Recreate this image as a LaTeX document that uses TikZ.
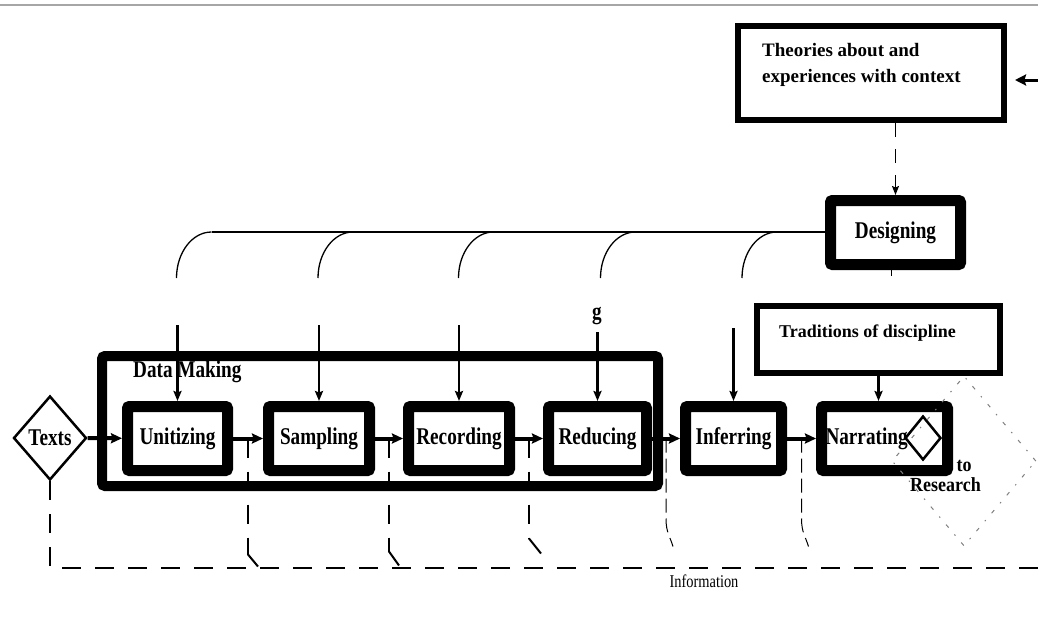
\documentclass[tikz,border=0pt]{standalone}
\usepackage{fontspec}
\setmainfont{Liberation Serif}
\newfontfamily\narrowfont{Liberation Serif}[FakeStretch=0.8]
\newfontfamily\semifont{Liberation Serif}[FakeStretch=0.9]
\usetikzlibrary{arrows.meta,shapes.geometric,calc}

\begin{document}
\begin{tikzpicture}[x=1pt, y=-1pt,
	proc/.style = {draw, line width=11pt, rounded corners=2pt, minimum height=64pt, inner sep=0pt,
		font=\narrowfont\bfseries\fontsize{24}{28}\selectfont},
	frame/.style = {draw, line width=6pt, inner sep=0pt},
	lbl/.style = {inner sep=0pt, font=\narrowfont\bfseries\fontsize{24}{28}\selectfont},
	flow/.style = {line width=4pt, -{Stealth[length=11pt, width=10pt, inset=1.5pt]}},
	feed/.style = {line width=2.5pt, -{Stealth[length=10pt, width=8pt, inset=1.5pt]}},
	fb/.style = {line width=2pt, dash pattern=on 19pt off 14pt},
	fbcurve/.style = {line width=1pt, dash pattern=on 14pt off 6pt}
]
\useasboundingbox (0,0) rectangle (1038,624);
\draw[gray!70, line width=1.5pt] (0,5) -- (1038,5);

\node [frame, minimum width=266pt, minimum height=94pt] (theo) at (871,73) {};
\node [anchor=north west, align=left, inner sep=0pt, font=\bfseries\fontsize{19}{26}\selectfont]
	(theotext) at (762,43) {Theories about and\\experiences with context};
\node [frame, minimum width=243pt, minimum height=67pt] (trad) at (878.5,339.5) {};
\node [anchor=base west, inner sep=0pt, font=\bfseries\fontsize{18}{22}\selectfont]
	(tradtext) at (779,337) {Traditions of discipline};

\node [draw, line width=10pt, rounded corners=3pt, minimum width=556pt, minimum height=130pt] (dm) at (380,421) {};
\node [lbl, anchor=base west] (dmlabel) at (133,377) {Data Making};

\node [proc, minimum width=130pt] (design) at (895.5,232.5) {Designing};
\node [proc, minimum width=100pt] (unit) at (177.5,438.5) {Unitizing};
\node [proc, minimum width=101pt] (samp) at (319,438.5) {Sampling};
\node [proc, minimum width=101pt] (rec) at (459,438.5) {Recording};
\node [proc, minimum width=98pt] (red) at (597.5,438.5) {Reducing};
\node [proc, minimum width=96pt] (inf) at (733.5,438.5) {Inferring};
\node [proc, minimum width=126pt, text width=118pt, align=left] (narr) at (884.5,438.5) {Narrating};

\node [lbl, draw, diamond, line width=2.5pt, minimum width=73pt, minimum height=84pt] (texts) at (50,438) {Texts};
\node [draw, diamond, line width=2.5pt, minimum width=36pt, minimum height=44pt, inner sep=0pt] (exit) at (923,438) {};
\node [draw, diamond, gray, line width=1pt, dash pattern=on 4pt off 9pt on 1.5pt off 9pt,
	minimum width=144pt, minimum height=170pt] (research) at (964,461) {};
\node [anchor=base, inner sep=0pt, font=\semifont\bfseries\fontsize{20}{22}\selectfont] (tolabel) at (964,471) {to};
\node [anchor=base, inner sep=0pt, font=\semifont\bfseries\fontsize{20}{22}\selectfont] (reslabel) at (945.5,491) {Research};
\node [lbl] (glabel) at (597,316) {g};
\node [anchor=base, inner sep=0pt, font=\narrowfont\fontsize{18}{20}\selectfont] (info) at (704,587) {Information};

\draw[flow] (texts) -- (unit);
\draw[flow] (unit) -- (samp);
\draw[flow] (samp) -- (rec);
\draw[flow] (rec) -- (red);
\draw[flow] (red) -- (inf);
\draw[flow] (inf) -- (narr);

\foreach \n/\x/\t in {unit/176.5/325, samp/318/325, rec/458.5/325, red/600.5/332, inf/742/328} {
	\coordinate (\n-in) at (\n.north |- 0,\t);
	\coordinate (\n-arc) at (\x,278);
	\draw[feed] (\n-in) -- (\n.north);
	\draw[line width=1.3pt] (\n-arc) .. controls (\x,252.6) and (\x+15.7,232) .. (\x+35,232);
}
\coordinate (dline) at (211.5,232);
\draw[line width=1.3pt] (dline) -- (design.west |- dline);
\coordinate (dstub) at (891,276);
\draw[line width=1pt] (design.south -| dstub) -- (dstub);

\draw[line width=1.5pt, dash pattern=on 14pt off 12pt, -{Stealth[length=9pt, width=7pt, inset=1.5pt]}]
	(theo.south -| design.north) -- (design.north);
\coordinate (ctx) at (1038,80);
\draw[line width=3pt, -{Stealth[length=11pt, width=11pt, inset=1.5pt]}, shorten >=8pt] (ctx) -- (theo.east |- ctx);
\draw[feed] (trad.south) -- (trad.south |- narr.north);

\coordinate (infoL) at (50,568);
\coordinate (infoR) at (1038,568);
\draw[fb] (texts.south) -- (infoL) -- (infoR);
\coordinate (m1) at ($(unit.east)!0.5!(samp.west)$);
\coordinate (m2) at ($(samp.east)!0.5!(rec.west)$);
\coordinate (m3) at ($(rec.east)!0.5!(red.west)$);
\coordinate (m4) at ($(red.east)!0.5!(inf.west)$);
\coordinate (m5) at ($(inf.east)!0.5!(narr.west)$);
\draw[fb] (m1) -- ++(0,116) coordinate (m1b);
\draw[line width=2pt] (m1b) -- ++(10,12);
\draw[fb] (m2) -- ++(0,113) coordinate (m2b);
\draw[line width=2pt] (m2b) -- ++(10,14);
\draw[fb] (m3) -- ++(0,100) coordinate (m3b);
\draw[line width=2pt] (m3b) -- ++(12,15);
\draw[fbcurve] (m4) -- ++(0,80) .. controls +(0,14) and +(-3,-10) .. ++(7,28);
\draw[fbcurve] (m5) -- ++(0,80) .. controls +(0,14) and +(-3,-10) .. ++(7,28);
\end{tikzpicture}
\end{document}
